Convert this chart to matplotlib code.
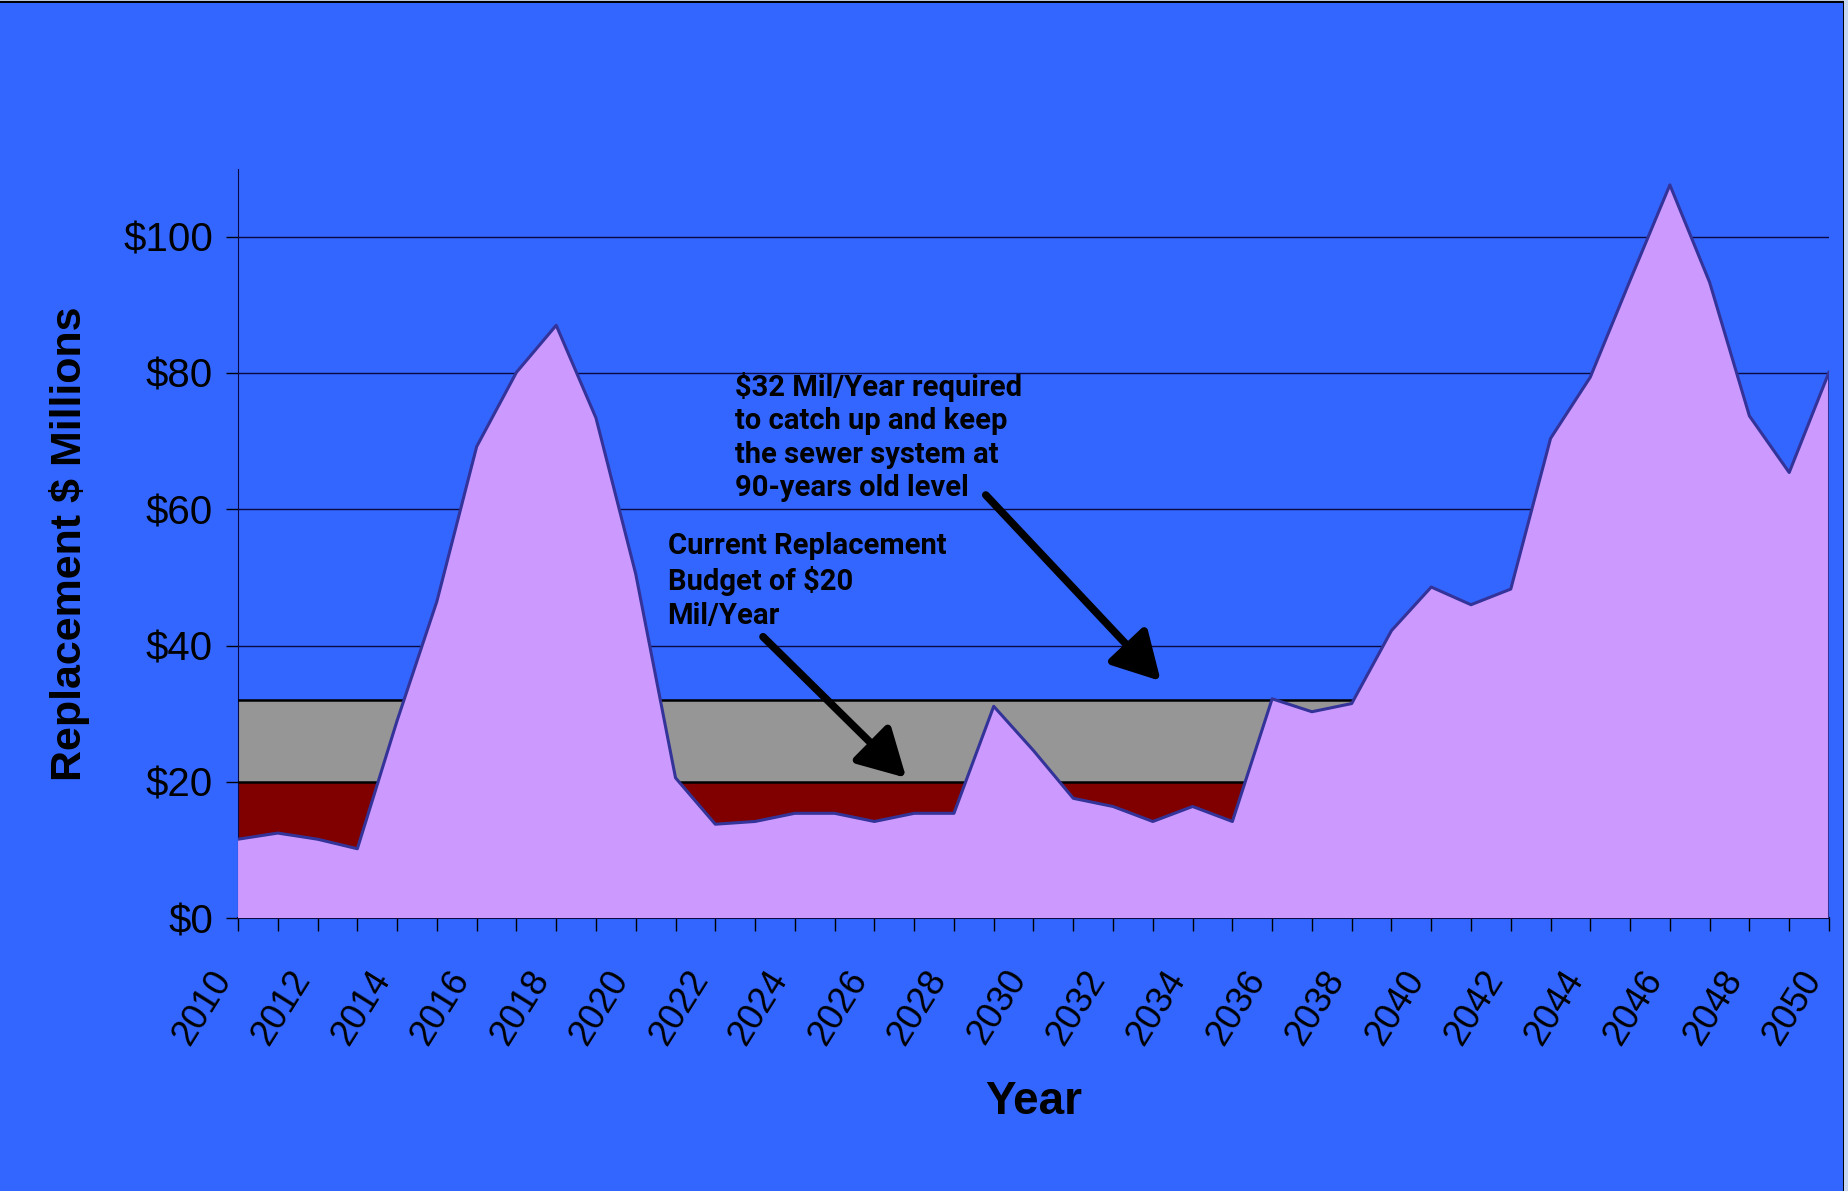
import numpy as np
import matplotlib
matplotlib.use('Agg')
import matplotlib.pyplot as plt
from matplotlib.ticker import MultipleLocator
from matplotlib.patches import Rectangle

# data ($ millions per year)
years = np.arange(2010, 2051)
replacement = [11.6, 12.5, 11.6, 10.2, 29.0, 46.5, 69.2, 80.1, 87.0, 73.4,
               50.5, 20.6, 13.8, 14.2, 15.4, 15.4, 14.2, 15.4, 15.4, 31.1,
               24.6, 17.6, 16.4, 14.2, 16.4, 14.2, 32.2, 30.3, 31.5, 42.2,
               48.6, 46.0, 48.3, 70.4, 79.4, 93.6, 107.6, 93.3, 73.7, 65.4,
               80.1]
current_budget = 20
required_budget = 32
y_ticks = [0, 20, 40, 60, 80, 100]
y_labels = ['$0', '$20', '$40', '$60', '$80', '$100']
x_ticks = list(range(2010, 2051, 2))

bg = '#3366FF'
purple = '#CC99FF'
gray = '#969696'
darkred = '#800000'
edge = '#333399'

W, H = 1848, 1191
fig = plt.figure(figsize=(W / 100, H / 100), dpi=100, facecolor=bg)
ax = fig.add_axes([0.1288, 0.229, 0.9897 - 0.1288, 0.8585 - 0.229])
ax.set_facecolor(bg)

# frame around the picture (dark line at top and right, light strip outside)
fig.add_artist(Rectangle((0, 1 - 1.5 / H), 1, 1.5 / H, transform=fig.transFigure,
                         color='#b8c4d8', lw=0))
fig.add_artist(Rectangle((0, 1 - 3 / H), 1 - 4 / W, 1.5 / H, transform=fig.transFigure,
                         color='black', lw=0))
fig.add_artist(Rectangle((1 - 4 / W, 0), 4 / W, 1, transform=fig.transFigure,
                         color='#c8d8f0', lw=0))
fig.add_artist(Rectangle((1 - 5.2 / W, 0), 1.2 / W, 1 - 1.5 / H, transform=fig.transFigure,
                         color='black', lw=0))

# gridlines
for v in y_ticks[1:]:
    ax.axhline(v, color='#0a0a40', lw=1.0, zorder=1)

# budget bands (purple area is drawn over them)
ax.fill_between(years, current_budget, required_budget, color=gray, lw=0, zorder=2)
ax.fill_between(years, 0, current_budget, color=darkred, lw=0, zorder=2)
ax.axhline(required_budget, color='black', lw=1.8, zorder=3)
ax.axhline(current_budget, color='black', lw=1.8, zorder=3)

ax.fill_between(years, 0, replacement, facecolor=purple, edgecolor='none', zorder=4)
ax.plot(years, replacement, color=edge, lw=2.2, zorder=5)
ax.plot([years[-1], years[-1]], [0, replacement[-1]], color=edge, lw=2.2, zorder=5)

ax.set_xlim(2010, 2050)
ax.set_ylim(0, 110)

ax.set_yticks(y_ticks)
ax.set_yticklabels(y_labels, fontsize=29, family='Liberation Sans')
ax.set_xticks(x_ticks)
ax.set_xticklabels([str(t) for t in x_ticks], fontsize=26, family='Liberation Sans',
                   rotation=58, ha='right', va='top')
ax.xaxis.set_minor_locator(MultipleLocator(1))
ax.tick_params(axis='y', direction='out', length=9, width=1, colors='black', pad=9)
ax.tick_params(axis='x', which='both', direction='out', length=9, width=1,
               colors='black', pad=24)

for s in ['top', 'right']:
    ax.spines[s].set_visible(False)
ax.spines['left'].set_color('#0a0a40')
ax.spines['bottom'].set_color('#0a0a40')
ax.spines['bottom'].set_linewidth(1.5)

ax.set_ylabel('Replacement $ Millions', fontsize=31, fontweight='bold',
              family=['Liberation Sans Narrow', 'Liberation Sans'])
ax.yaxis.set_label_coords(-0.093, 0.5)
ax.set_xlabel('Year', fontsize=33, fontweight='bold',
              family=['Liberation Sans Narrow', 'Liberation Sans'])
ax.xaxis.set_label_coords(0.5, -0.245)
ax.xaxis.label.set_va('center')

# annotations
note_font = dict(fontsize=21, fontweight='bold', family=['Roboto', 'DejaVu Sans'],
                 va='top', ha='left', linespacing=1.25, zorder=6)
ax.text(2022.5, 80.2, '$32 Mil/Year required\nto catch up and keep\nthe sewer system at\n90-years old level',
        **note_font)
ax.text(2020.8, 56.6, 'Current Replacement\nBudget of $20\nMil/Year', **note_font)

arrow = dict(arrowstyle='-|>,head_length=0.9,head_width=0.5', color='black',
             lw=5.5, mutation_scale=32, shrinkA=0, shrinkB=0)
ax.annotate('', xy=(2033.2, 34.8), xytext=(2028.8, 62.1), arrowprops=arrow, zorder=7)
ax.annotate('', xy=(2026.8, 20.6), xytext=(2023.2, 41.3), arrowprops=arrow, zorder=7)

fig.savefig('out.png', dpi=100, facecolor=bg)
